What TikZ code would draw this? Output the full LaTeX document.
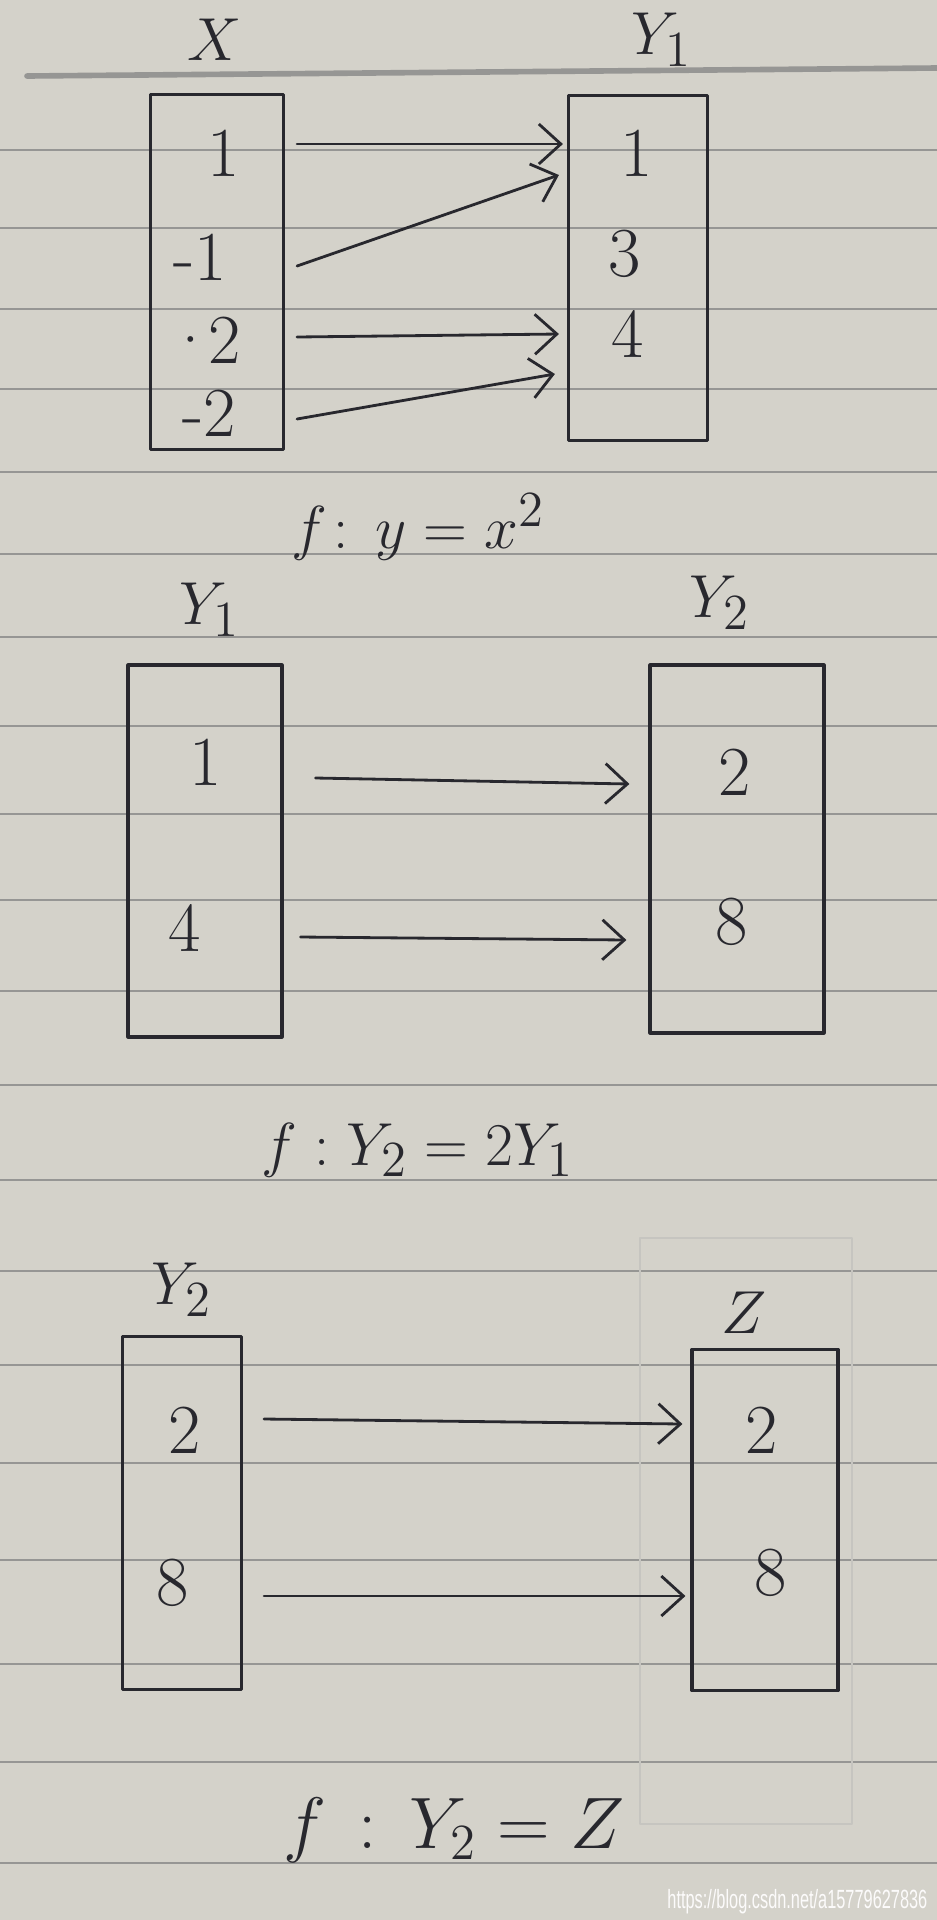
\documentclass[tikz,border=0pt]{standalone}
\usepackage{fontspec}
\usetikzlibrary{arrows.meta}
\newfontfamily\urlfont{Liberation Sans}

\definecolor{paper}{RGB}{212,210,202}
\definecolor{ruling}{RGB}{150,150,148}
\definecolor{ink}{RGB}{40,40,46}
\definecolor{pencil}{RGB}{198,197,192}

\tikzset{
  setbox/.style={draw=ink,line width=0.9pt,inner sep=0pt},
  elem/.style={text=ink,font=\fontsize{20}{24}\selectfont},
  setname/.style={text=ink,font=\fontsize{19}{23}\selectfont},
  formula/.style={text=ink,font=\fontsize{19}{23}\selectfont},
  rule/.style={ruling,line width=0.7pt},
  maparrow/.style={ink,line width=0.8pt,-{Straight Barb[length=2.2mm,width=4mm]}}
}

\begin{document}
\begin{tikzpicture}[x=0.1mm,y=-0.1mm,line cap=round,line join=round]
        \fill[paper] (0,0) rectangle (937,1920);
        \useasboundingbox (0,0) rectangle (937,1920);

        % Renglones de la hoja
        \draw[ruling,line width=1.6pt] (27,76) -- (937,68);
        \foreach \ly in {150,228,309,389,472,554,637,726,814,900,
                         991,1085,1180,1271,1365,1463,1560,1664,1762,1863}
            \draw[rule] (0,\ly) -- (937,\ly);
        \draw[pencil,line width=0.4pt] (640,1238) rectangle (852,1824);

        %----------------------------------------------------------
        % Primera aplicación: X -> Y1
        \node[setname] (nameX) at (215,40) {$X$};
        \node[setname] (nameYa) at (662,40) {$Y_1$};
        \node[setbox,minimum width=13.3mm,minimum height=35.5mm]
            (boxX) at (217,272) {};
        \node[setbox,minimum width=13.9mm,minimum height=34.5mm]
            (boxYa) at (638,268) {};

        \node[elem] (x1) at (224,153) {1};
        \node[elem] (xm1) at (200,257) {-1};
        \node[elem] (xp2) at (203,340) {·\kern-2pt2};
        \node[elem] (xm2) at (209,413) {-2};
        \node[elem] (ya1) at (637,153) {1};
        \node[elem] (ya3) at (625,254) {3};
        \node[elem] (ya4) at (628,334) {4};

        \draw[maparrow] ([shift={(12,-9)}]boxX.east |- x1)
            -- ([shift={(-4,-9)}]boxYa.west |- ya1);
        \draw[maparrow] ([shift={(12,9)}]boxX.east |- xm1)
            -- ([shift={(-8,22)}]boxYa.west |- ya1);
        \draw[maparrow] ([shift={(12,-3)}]boxX.east |- xp2)
            -- ([shift={(-8,0)}]boxYa.west |- ya4);
        \draw[maparrow] ([shift={(12,6)}]boxX.east |- xm2)
            -- ([shift={(-12,40)}]boxYa.west |- ya4);

        \node[formula] (mapA) at (418,527) {$f\!:\,y=x^2$};

        %----------------------------------------------------------
        % Segunda aplicación: Y1 -> Y2
        \node[setname] (nameYb) at (210,610) {$Y_1$};
        \node[setname] (nameYc) at (720,603) {$Y_2$};
        \node[setbox,minimum width=15.4mm,minimum height=37.2mm]
            (boxYb) at (205,851) {};
        \node[setbox,minimum width=17.4mm,minimum height=36.8mm]
            (boxYc) at (737,849) {};

        \node[elem] (yb1) at (206,762) {1};
        \node[elem] (yb4) at (185,928) {4};
        \node[elem] (yc2) at (735,772) {2};
        \node[elem] (yc8) at (732,922) {8};

        \draw[maparrow] ([shift={(32,16)}]boxYb.east |- yb1)
            -- ([shift={(-19,12)}]boxYc.west |- yc2);
        \draw[maparrow] ([shift={(17,9)}]boxYb.east |- yb4)
            -- ([shift={(-22,18)}]boxYc.west |- yc8);

        \node[formula] (mapB) at (418,1150) {$f:Y_2=2Y_1$};

        %----------------------------------------------------------
        % Tercera aplicación: Y2 -> Z
        \node[setname] (nameYd) at (182,1290) {$Y_2$};
        \node[setname] (nameZ) at (744,1313) {$Z$};
        \node[setbox,minimum width=11.9mm,minimum height=35.3mm]
            (boxYd) at (182,1513) {};
        \node[setbox,minimum width=14.6mm,minimum height=34.1mm]
            (boxZ) at (765,1520) {};

        \node[elem] (yd2) at (185,1430) {2};
        \node[elem] (yd8) at (173,1583) {8};
        \node[elem] (z2) at (762,1430) {2};
        \node[elem] (z8) at (771,1573) {8};

        \draw[maparrow] ([shift={(21,-11)}]boxYd.east |- yd2)
            -- ([shift={(-8,-6)}]boxZ.west |- z2);
        \draw[maparrow] ([shift={(21,13)}]boxYd.east |- yd8)
            -- ([shift={(-5,23)}]boxZ.west |- z8);

        \node[formula,font=\fontsize{21}{25}\selectfont] (mapC) at (454,1830)
            {$f\,:\,Y_2=Z$};

        % Marca de agua
        \node[anchor=east,text=white!92!paper,inner sep=0pt] (mark) at (928,1902)
            {\urlfont\fontsize{7.5}{9}\selectfont\scalebox{0.62}[1]{https://blog.csdn.net/a15779627836}};
    \end{tikzpicture}
\end{document}
